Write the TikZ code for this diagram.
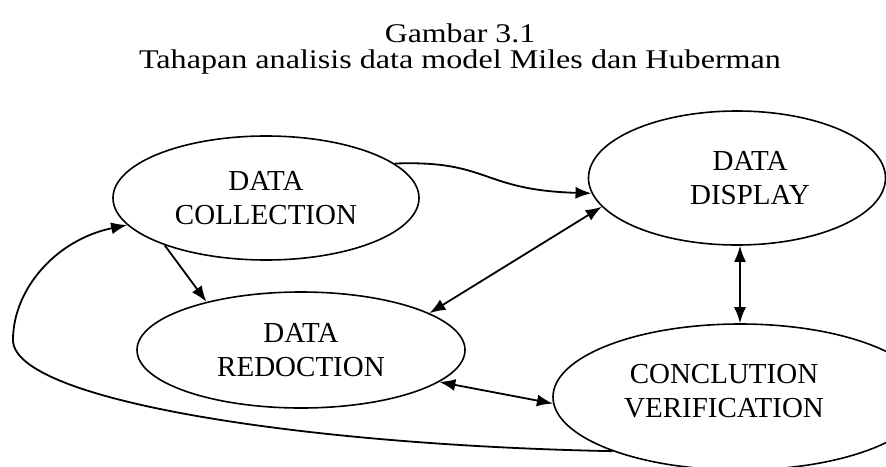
\documentclass[tikz,border=0pt]{standalone}
\usepackage{fontspec}
\setmainfont{Liberation Serif}
\usepackage{tikz}
\usetikzlibrary{shapes.geometric, arrows.meta, positioning}
\tikzset{
  stage/.style={
    ellipse, draw, line width=1.6pt, inner sep=0pt,
    align=center, font=\fontsize{29}{34}\selectfont
  },
  stagetext/.style={align=center, font=\fontsize{29}{34}\selectfont},
  arrow/.style={-{Latex[length=16pt,width=12pt]}, line width=1.8pt},
  twoway/.style={{Latex[length=16pt,width=12pt]}-{Latex[length=16pt,width=12pt]}, line width=1.8pt},
  caption/.style={font=\fontsize{27}{30}\selectfont, anchor=base, inner sep=0pt}
}
\begin{document}
\begin{tikzpicture}[x=1pt, y=-1pt]
  \useasboundingbox (0,0) rectangle (886,466);

  \node[caption] (num) at (460,42) {\scalebox{1.18}[1]{Gambar 3.1}};
  \node[caption] (title) at (460,68) {\scalebox{1.19}[1]{Tahapan analisis data model Miles dan Huberman}};

  \node[stage, minimum width=306pt, minimum height=124pt] (coll) at (266,198) {DATA\\COLLECTION};
  \node[stage, minimum width=297pt, minimum height=134pt,
    label={[stagetext, xshift=13pt]center:{DATA\\DISPLAY}}] (disp) at (737,178) {};
  \node[stage, minimum width=328pt, minimum height=116pt] (redo) at (301,350) {DATA\\REDOCTION};
  \node[stage, minimum width=374pt, minimum height=146pt,
    label={[stagetext, xshift=-16pt, yshift=6pt]center:{CONCLUTION\\VERIFICATION}}] (conc) at (740,397) {};

  \draw[arrow] (coll.15) .. controls (490,160) and (480,190) .. (disp.186);
  \draw[arrow] (coll.205) -- (redo.153);
  \draw[twoway] (redo.16) -- (disp.192);
  \draw[twoway] (disp.south -| conc.north) -- (conc.north);
  \draw[twoway] (redo.-13) -- (conc.182);

  % feedback back to collection
  \draw[arrow] (conc.203) .. controls (300,445) and (13,400) .. (13,340)
    .. controls (13,290) and (55,240) .. (coll.191);
\end{tikzpicture}
\end{document}
